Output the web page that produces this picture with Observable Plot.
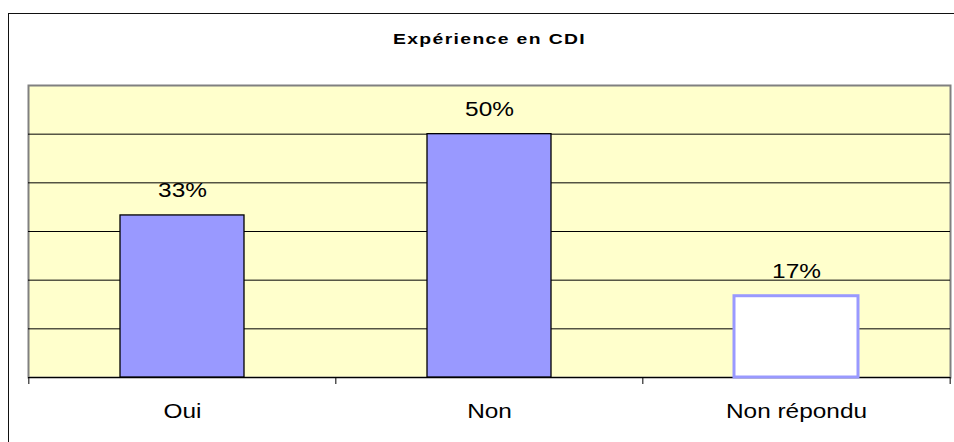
<!DOCTYPE html>
<html><head><meta charset="utf-8">
<script src="https://cdn.jsdelivr.net/npm/d3@7"></script>
<script src="https://cdn.jsdelivr.net/npm/@observablehq/plot@0.6"></script>
<style>
html,body{margin:0;padding:0;background:#fff;overflow:hidden;}
#wrap{position:relative;width:954px;height:442px;}
#border{position:absolute;left:8px;top:13px;width:1000px;height:500px;border-left:1.5px solid #111;border-top:1.5px solid #111;}
#chart{position:absolute;left:0;top:0;}
</style></head><body>
<div id="wrap"><div id="border"></div><div id="chart"></div></div>
<script>
const title = "Expérience en CDI";
const categories = ["Oui", "Non", "Non répondu"];
const values = [33.3, 50, 16.7];
const valueLabels = ["33%", "50%", "17%"];
const gridTicks = [10, 20, 30, 40, 50];
const yMax = 60;

const data = categories.map((c, i) => ({category: c, value: values[i], label: valueLabels[i]}));
const W = 954, H = 442, mL = 28, mR = 4, mT = 85, mB = 65;
const step = (W - mL - mR) / categories.length;
const plotH = H - mT - mB;
const font = "'Liberation Sans', Arial, sans-serif";
const blue = "#9999FF";
const unanswered = categories[2];

const chart = Plot.plot({
  width: W, height: H,
  marginLeft: mL, marginRight: mR, marginTop: mT, marginBottom: mB,
  style: {fontFamily: font, background: "transparent", color: "#000"},
  x: {type: "band", domain: categories, paddingInner: 0.596, paddingOuter: 0.298, axis: null},
  y: {domain: [0, yMax], axis: null},
  marks: [
    Plot.frame({fill: "#FFFFCC", stroke: "#808080", strokeWidth: 2}),
    Plot.gridY(gridTicks, {stroke: "#000", strokeOpacity: 1, strokeWidth: 1}),
    Plot.ruleY([0], {stroke: "#000", strokeWidth: 1.2}),
    Plot.ruleX(categories, {x: d => d, dx: -step / 2, insetTop: plotH, insetBottom: -7, stroke: "#000"}),
    Plot.ruleX([categories[categories.length - 1]], {x: d => d, dx: step / 2, insetTop: plotH, insetBottom: -7, stroke: "#000"}),
    Plot.barY(data, {filter: d => d.category !== unanswered, x: "category", y: "value", fill: blue, stroke: "#000", strokeWidth: 1.3}),
    Plot.barY(data, {filter: d => d.category === unanswered, x: "category", y: "value", fill: "#fff", stroke: blue, strokeWidth: 3}),
    Plot.text(data, {x: "category", y: "value", text: "label", dy: -18, lineAnchor: "bottom", fontSize: 20, fill: "#000"}),
    Plot.text(categories, {x: d => d, y: () => 0, text: d => d, dy: 40, lineAnchor: "bottom", fontSize: 20, fill: "#000"}),
    Plot.text([title], {frameAnchor: "top", text: d => d, dy: -42, lineAnchor: "bottom", fontSize: 14, fontWeight: "bold", fill: "#000"})
  ]
});
document.getElementById("chart").append(chart);
chart.querySelectorAll("text").forEach(t => {
  const isTitle = t.textContent === title;
  if (isTitle) t.style.letterSpacing = "1px";
  const len = t.getComputedTextLength();
  const factor = isTitle ? 1.38 : 1.22;
  t.setAttribute("textLength", len * factor);
  t.setAttribute("lengthAdjust", "spacingAndGlyphs");
});
</script>
</body></html>
